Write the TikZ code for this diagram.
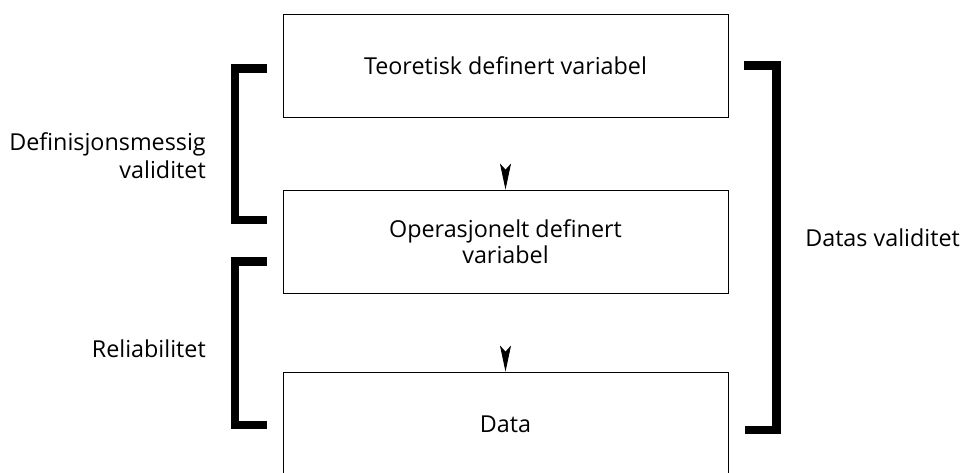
\documentclass[tikz,border=0pt]{standalone}
\usepackage{fontspec}
\setmainfont{Open Sans}
\usetikzlibrary{arrows.meta}

\tikzset{
  box/.style={draw, line width=0.6pt, minimum width=333.75pt, minimum height=77.25pt, inner sep=0.75pt, align=center, font=\fontsize{17.5}{19.5}\selectfont},
  lbl/.style={inner sep=0.75pt, font=\fontsize{17.5}{21}\selectfont},
  brak/.style={line width=6.5pt, line join=miter},
  pil/.style={-{Stealth[length=19.5pt, width=8.25pt, inset=4.5pt]}, line width=0.6pt},
}

\begin{document}
\begin{tikzpicture}[x=0.75pt,y=0.75pt,yscale=-1,xscale=1]
        \useasboundingbox (0,0) rectangle (965,473);
        
        %Shape: Boxes
        \node[box] (teo) at (505.5,65.5) {Teoretisk definert variabel};
        \node[box] (ope) at (505.5,241.5) {Operasjonelt definert\\variabel};
        \node[box, minimum height=78pt] (dat) at (505.5,424) {Data};
        
        %Arrows: only the heads show
        \draw[pil, shorten <=39.4pt] (teo) -- (ope);
        \draw[pil, shorten <=43.9pt] (ope) -- (dat);
        
        %Shape: Brackets
        \draw[brak] (267,68.5) -- (235,68.5) -- (235,220) -- (267,220);
        \draw[brak] (267,261.5) -- (235,261.5) -- (235,425) -- (267,425);
        \draw[brak] (744,65.5) -- (776.5,65.5) -- (776.5,430) -- (745,430);
        
        % Text Node
        \node[lbl, anchor=east, align=right] (defval) at (207,156) {Definisjonsmessig\\validitet};
        % Text Node
        \node[lbl, anchor=east] (rel) at (207,349) {Reliabilitet};
        % Text Node
        \node[lbl, anchor=west] (datval) at (804,238) {Datas validitet};
        
\end{tikzpicture}
\end{document}
